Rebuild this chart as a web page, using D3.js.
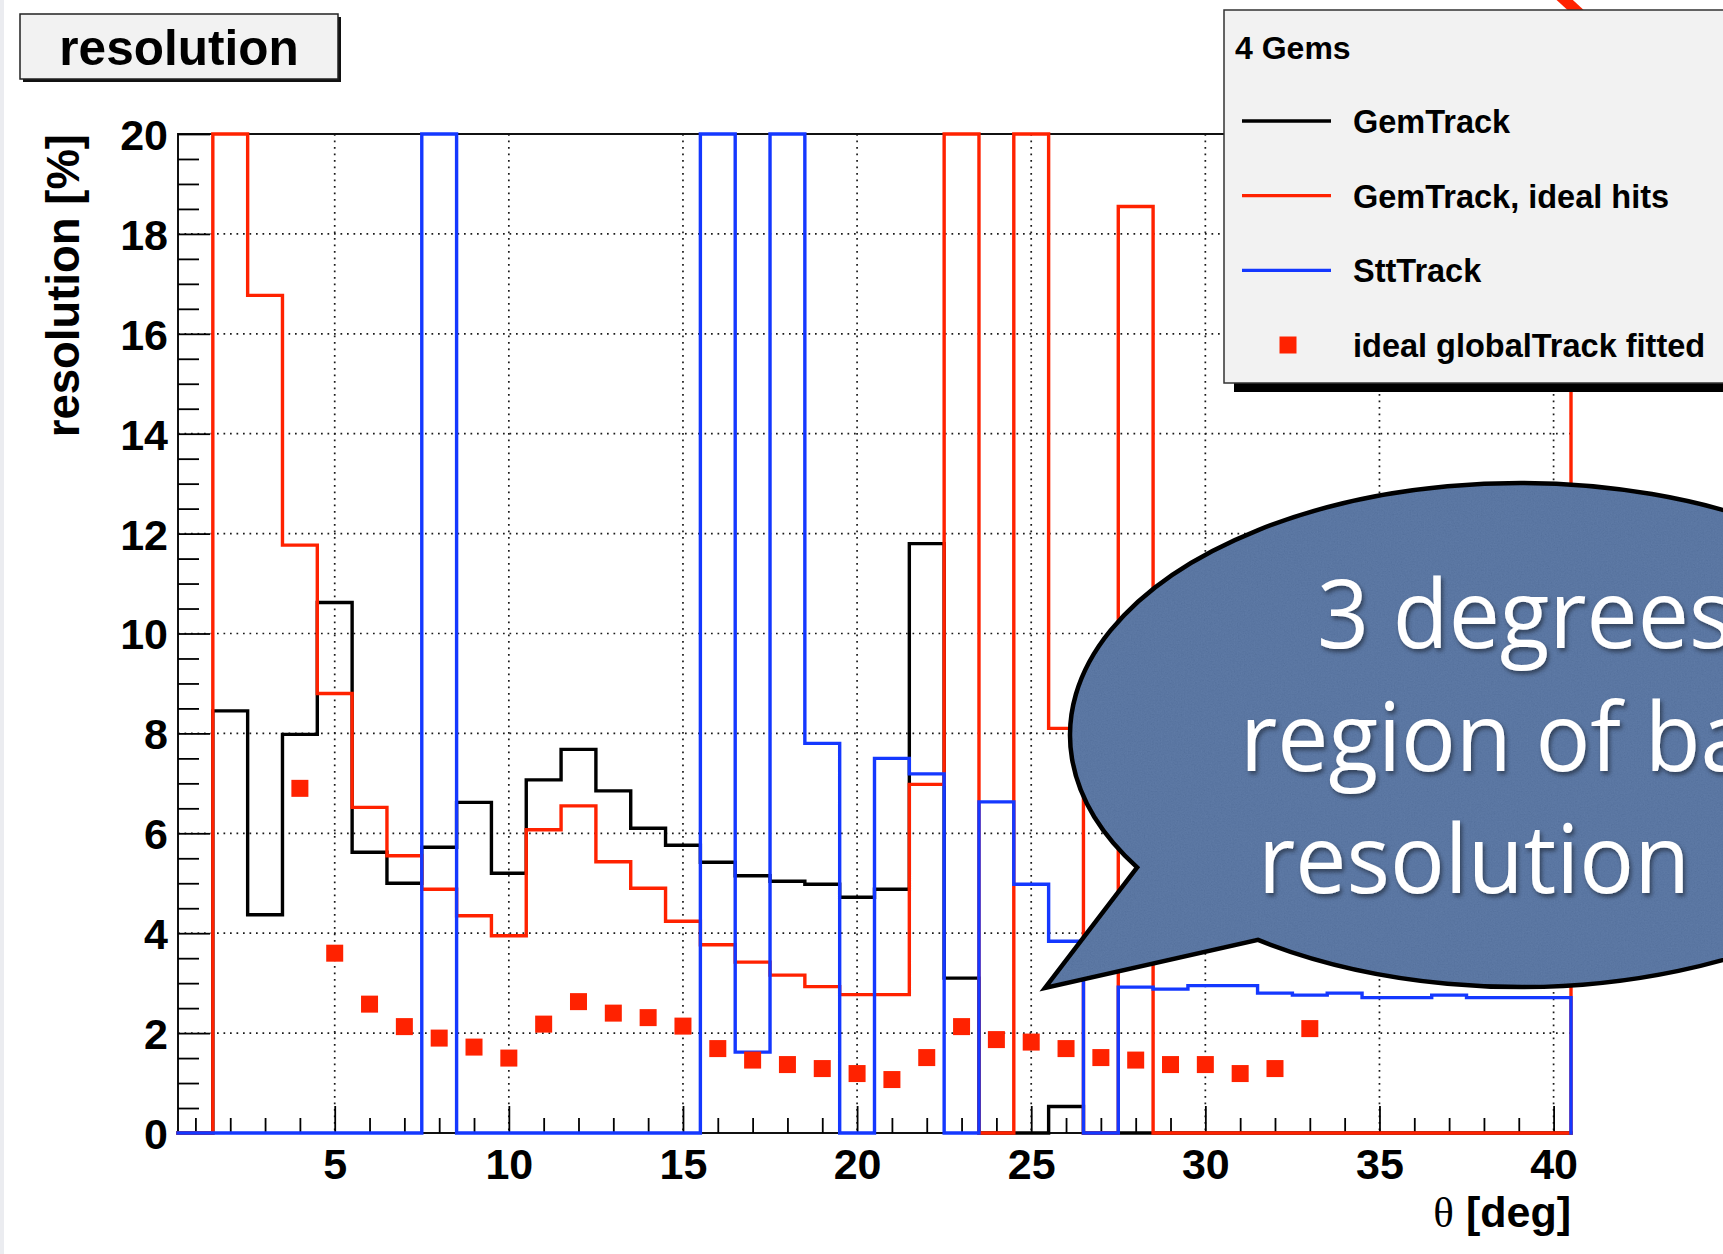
<!DOCTYPE html>
<html>
<head>
<meta charset="utf-8">
<script src="https://cdn.jsdelivr.net/npm/d3@7"></script>
<style>
  html, body { margin: 0; padding: 0; background: #ffffff; }
  svg { display: block; }
</style>
</head>
<body>
<svg id="chart" width="1723" height="1254"></svg>
<script>
// ---- data: resolution [%] per theta bin (1 deg bins, centred on integers) ----
const thetaBins = [1, 2, 3, 4, 5, 6, 7, 8, 9, 10,
                   11, 12, 13, 14, 15, 16, 17, 18, 19, 20,
                   21, 22, 23, 24, 25, 26, 27, 28, 29, 30,
                   31, 32, 33, 34, 35, 36, 37, 38, 39, 40];

const gemTrack = [0, 8.45, 4.37, 7.98, 10.62, 5.62, 5.0, 5.72, 6.62, 5.2,
                  7.07, 7.68, 6.85, 6.1, 5.76, 5.42, 5.15, 5.04, 4.98, 4.72,
                  4.88, 11.8, 3.1, 0, 0, 0.53, 0, 0, 0, 0,
                  0, 0, 0, 0, 0, 0, 0, 0, 0, 0];

const gemTrackIdeal = [0, 20, 16.77, 11.77, 8.8, 6.52, 5.55, 4.88, 4.35, 3.95,
                       6.07, 6.55, 5.43, 4.9, 4.24, 3.77, 3.42, 3.16, 2.93, 2.77,
                       2.77, 6.98, 20, 0, 20, 8.1, 0, 18.55, 0, 0,
                       0, 0, 0, 0, 0, 0, 0, 0, 0, 0];
// content of the first bin past the drawn range (only its edge shows)
const gemTrackIdealOverflow = 20;

const sttTrack = [0, 0, 0, 0, 0, 0, 0, 20, 0, 0,
                  0, 0, 0, 0, 0, 20, 1.62, 20, 7.8, 0,
                  7.5, 7.19, 0, 6.63, 4.98, 3.84, 0, 2.92, 2.88, 2.95,
                  2.95, 2.8, 2.76, 2.8, 2.71, 2.71, 2.76, 2.71, 2.71, 2.71];

const globalFitTheta = [4, 5, 6, 7, 8, 9, 10, 11, 12, 13, 14, 15, 16, 17, 18,
                        19, 20, 21, 22, 23, 24, 25, 26, 27, 28, 29, 30, 31, 32, 33];
const globalFitRes = [6.9, 3.6, 2.58, 2.13, 1.9, 1.72, 1.5, 2.18, 2.63, 2.4, 2.31, 2.14, 1.69, 1.46, 1.37,
                      1.29, 1.19, 1.07, 1.51, 2.13, 1.87, 1.82, 1.69, 1.51, 1.46, 1.37, 1.37, 1.19, 1.29, 2.09];

const xTicks = [5, 10, 15, 20, 25, 30, 35, 40];
const yTicks = [0, 2, 4, 6, 8, 10, 12, 14, 16, 18, 20];

const legendTitle = "4 Gems";
const legendEntries = [
  { label: "GemTrack", kind: "line", color: "#000000" },
  { label: "GemTrack, ideal hits", kind: "line", color: "#ff2200" },
  { label: "SttTrack", kind: "line", color: "#1438ff" },
  { label: "ideal globalTrack fitted", kind: "marker", color: "#ff2200" }
];

const bubbleLines = ["3 degrees", "region of bad", "resolution"];

// ---- layout ----
const W = 1723, H = 1254;
const plot = { left: 178, right: 1571, top: 134, bottom: 1133 };
const FONT = "'Liberation Sans', Arial, Helvetica, sans-serif";

const x = d3.scaleLinear().domain([0.5, 40.5]).range([plot.left, plot.right]);
const y = d3.scaleLinear().domain([0, 20]).range([plot.bottom, plot.top]);

const svg = d3.select("#chart");
svg.append("rect").attr("width", W).attr("height", H).attr("fill", "#ffffff");

const defs = svg.append("defs");
defs.append("clipPath").attr("id", "plotClip")
  .append("rect")
  .attr("x", plot.left - 3).attr("y", plot.top - 3)
  .attr("width", plot.right - plot.left + 6).attr("height", plot.bottom - plot.top + 6);

const grain = defs.append("filter").attr("id", "grain")
  .attr("x", 0).attr("y", 0).attr("width", 1).attr("height", 1);
grain.append("feTurbulence").attr("type", "fractalNoise")
  .attr("baseFrequency", 0.7).attr("numOctaves", 3).attr("seed", 11).attr("result", "noise");
grain.append("feColorMatrix").attr("in", "noise").attr("type", "matrix")
  .attr("values", "0.33 0.33 0.33 0 0  0.33 0.33 0.33 0 0  0.33 0.33 0.33 0 0  0 0 0 0 1")
  .attr("result", "mono");
grain.append("feComposite").attr("in", "mono").attr("in2", "SourceGraphic").attr("operator", "in");

const textShadow = defs.append("filter").attr("id", "textShadow")
  .attr("x", "-10%").attr("y", "-20%").attr("width", "130%").attr("height", "150%");
textShadow.append("feDropShadow").attr("dx", 2).attr("dy", 3)
  .attr("stdDeviation", 2.2).attr("flood-color", "#000").attr("flood-opacity", 0.45);

// thin slide edge on the left
svg.append("rect").attr("x", 0).attr("y", 0).attr("width", 4).attr("height", H).attr("fill", "#ebecf0");

// ---- grid ----
const grid = svg.append("g").attr("stroke", "#1a1a1a").attr("stroke-width", 1.7)
  .attr("stroke-dasharray", "1.7 4.8");
grid.selectAll("line.vx").data(xTicks).join("line").attr("class", "vx")
  .attr("x1", d => x(d)).attr("x2", d => x(d))
  .attr("y1", plot.top).attr("y2", plot.bottom);
grid.selectAll("line.hy").data(yTicks.filter(v => v > 0 && v < 20)).join("line").attr("class", "hy")
  .attr("x1", plot.left).attr("x2", plot.right)
  .attr("y1", d => y(d)).attr("y2", d => y(d));

// ---- frame ----
svg.append("rect")
  .attr("x", plot.left).attr("y", plot.top)
  .attr("width", plot.right - plot.left).attr("height", plot.bottom - plot.top)
  .attr("fill", "none").attr("stroke", "#111").attr("stroke-width", 2);

// ---- axes ----
function styleAxis(g) {
  g.select(".domain").remove();
  g.attr("font-family", FONT).attr("font-size", 43).attr("font-weight", "bold");
  g.selectAll(".tick line").attr("stroke", "#000").attr("stroke-width", 1.8);
  g.selectAll(".tick text").attr("fill", "#000");
}

const yMinor = d3.range(0.5, 20, 0.5).filter(v => v % 2 !== 0);
svg.append("g").attr("transform", `translate(${plot.left},0)`)
  .call(d3.axisLeft(y).tickValues(yMinor).tickSizeInner(-21).tickSizeOuter(0).tickFormat(""))
  .call(styleAxis);
svg.append("g").attr("transform", `translate(${plot.left},0)`)
  .call(d3.axisLeft(y).tickValues(yTicks).tickSizeInner(-32).tickSizeOuter(0).tickPadding(10).tickFormat(d3.format("d")))
  .call(styleAxis)
  .call(g => g.selectAll(".tick text").attr("dy", "0.36em"));

const xMinor = thetaBins.filter(v => v % 5 !== 0);
svg.append("g").attr("transform", `translate(0,${plot.bottom})`)
  .call(d3.axisBottom(x).tickValues(xMinor).tickSizeInner(-15).tickSizeOuter(0).tickFormat(""))
  .call(styleAxis);
svg.append("g").attr("transform", `translate(0,${plot.bottom})`)
  .call(d3.axisBottom(x).tickValues(xTicks).tickSizeInner(-27).tickSizeOuter(0).tickPadding(15).tickFormat(d3.format("d")))
  .call(styleAxis);

// axis titles
svg.append("text")
  .attr("transform", `translate(79,${plot.top}) rotate(-90)`)
  .attr("text-anchor", "end")
  .attr("font-family", FONT).attr("font-size", 45.5).attr("font-weight", "bold")
  .attr("fill", "#000")
  .text("resolution [%]");

const xt = svg.append("text")
  .attr("x", plot.right).attr("y", 1227)
  .attr("text-anchor", "end")
  .attr("font-family", FONT).attr("font-size", 43).attr("font-weight", "bold")
  .attr("fill", "#000");
xt.append("tspan").attr("font-family", "'Liberation Serif', 'DejaVu Serif', serif")
  .attr("font-weight", "normal").text("θ");
xt.append("tspan").text(" [deg]");

// ---- histograms ----
function stepPoints(values, overflow) {
  const pts = values.map((v, i) => [thetaBins[i] - 0.5, v]);
  let edge = thetaBins[thetaBins.length - 1] + 0.5;
  if (overflow !== undefined) {
    pts.push([edge, overflow]);
    edge += 1;
    pts.push([edge, overflow]);
  } else {
    pts.push([edge, values[values.length - 1]]);
  }
  pts.push([edge, 0]);
  return pts;
}

const step = d3.line()
  .x(d => x(d[0]))
  .y(d => y(d[1]))
  .curve(d3.curveStepAfter);

const hists = svg.append("g").attr("clip-path", "url(#plotClip)")
  .attr("fill", "none").attr("stroke-width", 3.4)
  .attr("stroke-linejoin", "miter").attr("stroke-linecap", "square");

hists.append("path").attr("d", step(stepPoints(gemTrack))).attr("stroke", "#000000");
hists.append("path").attr("d", step(stepPoints(gemTrackIdeal, gemTrackIdealOverflow))).attr("stroke", "#ff2200");
hists.append("path").attr("d", step(stepPoints(sttTrack))).attr("stroke", "#1438ff");

// fitted global tracks as square markers
const MS = 17;
svg.append("g").selectAll("rect").data(globalFitTheta).join("rect")
  .attr("x", d => x(d) - MS / 2)
  .attr("y", (d, i) => y(globalFitRes[i]) - MS / 2)
  .attr("width", MS).attr("height", MS)
  .attr("fill", "#ff2200");

// ---- title box ----
const title = svg.append("g");
title.append("rect").attr("x", 23).attr("y", 17).attr("width", 318).attr("height", 65).attr("fill", "#111");
title.append("rect").attr("x", 20).attr("y", 14).attr("width", 318).attr("height", 65)
  .attr("fill", "#f2f2f2").attr("stroke", "#222").attr("stroke-width", 1.5);
title.append("text").attr("x", 179).attr("y", 65)
  .attr("text-anchor", "middle")
  .attr("font-family", FONT).attr("font-size", 49.5).attr("font-weight", "bold")
  .attr("fill", "#000").text("resolution");

// ---- red arrow stub from the slide annotation above ----
svg.append("line").attr("x1", 1556).attr("y1", -8).attr("x2", 1580).attr("y2", 14)
  .attr("stroke", "#ff2200").attr("stroke-width", 11);

// ---- legend ----
const leg = svg.append("g");
leg.append("rect").attr("x", 1234).attr("y", 19).attr("width", 520).attr("height", 373).attr("fill", "#000");
leg.append("rect").attr("x", 1224).attr("y", 10).attr("width", 520).attr("height", 373)
  .attr("fill", "#f2f2f2").attr("stroke", "#333").attr("stroke-width", 1.5);
leg.append("text").attr("x", 1235).attr("y", 59)
  .attr("font-family", FONT).attr("font-size", 32).attr("font-weight", "bold")
  .attr("fill", "#000").text(legendTitle);

const rowY = d3.scaleLinear().domain([0, 3]).range([121, 345]);
const rows = leg.selectAll("g.row").data(legendEntries).join("g").attr("class", "row")
  .attr("transform", (d, i) => `translate(0,${rowY(i)})`);
rows.filter(d => d.kind === "line").append("line")
  .attr("x1", 1242).attr("x2", 1331).attr("y1", 0).attr("y2", 0)
  .attr("stroke", d => d.color).attr("stroke-width", 3.4);
rows.filter(d => d.kind === "marker").append("rect")
  .attr("x", 1288 - MS / 2).attr("y", -MS / 2).attr("width", MS).attr("height", MS)
  .attr("fill", d => d.color);
rows.append("text").attr("x", 1353).attr("y", 12)
  .attr("font-family", FONT).attr("font-size", 32.5).attr("font-weight", "bold")
  .attr("fill", "#000").text(d => d.label);

// ---- speech bubble ----
const bub = { cx: 1520, cy: 735, rx: 450, ry: 252 };
const tip = [1045, 988];
const rad = Math.PI / 180;
const pA = [bub.cx + bub.rx * Math.cos(148.3 * rad), bub.cy + bub.ry * Math.sin(148.3 * rad)];
const pB = [bub.cx + bub.rx * Math.cos(125.6 * rad), bub.cy + bub.ry * Math.sin(125.6 * rad)];
const bubblePath = `M${pA[0]},${pA[1]} L${tip[0]},${tip[1]} L${pB[0]},${pB[1]} ` +
  `A${bub.rx},${bub.ry} 0 1 0 ${pA[0]},${pA[1]} Z`;

const bubble = svg.append("g");
bubble.append("path").attr("d", bubblePath).attr("fill", "#4d6d9f");
bubble.append("path").attr("d", bubblePath).attr("fill", "#000")
  .attr("filter", "url(#grain)").attr("opacity", 0.12);
bubble.append("path").attr("d", bubblePath).attr("fill", "none")
  .attr("stroke", "#000").attr("stroke-width", 4.5).attr("stroke-linejoin", "miter");

const lineStarts = [1317, 1240, 1258];
const bt = bubble.append("g").attr("filter", "url(#textShadow)");
bt.selectAll("text").data(bubbleLines).join("text")
  .attr("transform", (d, i) => `translate(${lineStarts[i]},${648 + i * 122.5}) scale(0.95,1)`)
  .attr("font-family", "'Open Sans', Lato, sans-serif").attr("font-size", 96)
  .attr("fill", "#ffffff")
  .text(d => d);
</script>
</body>
</html>
